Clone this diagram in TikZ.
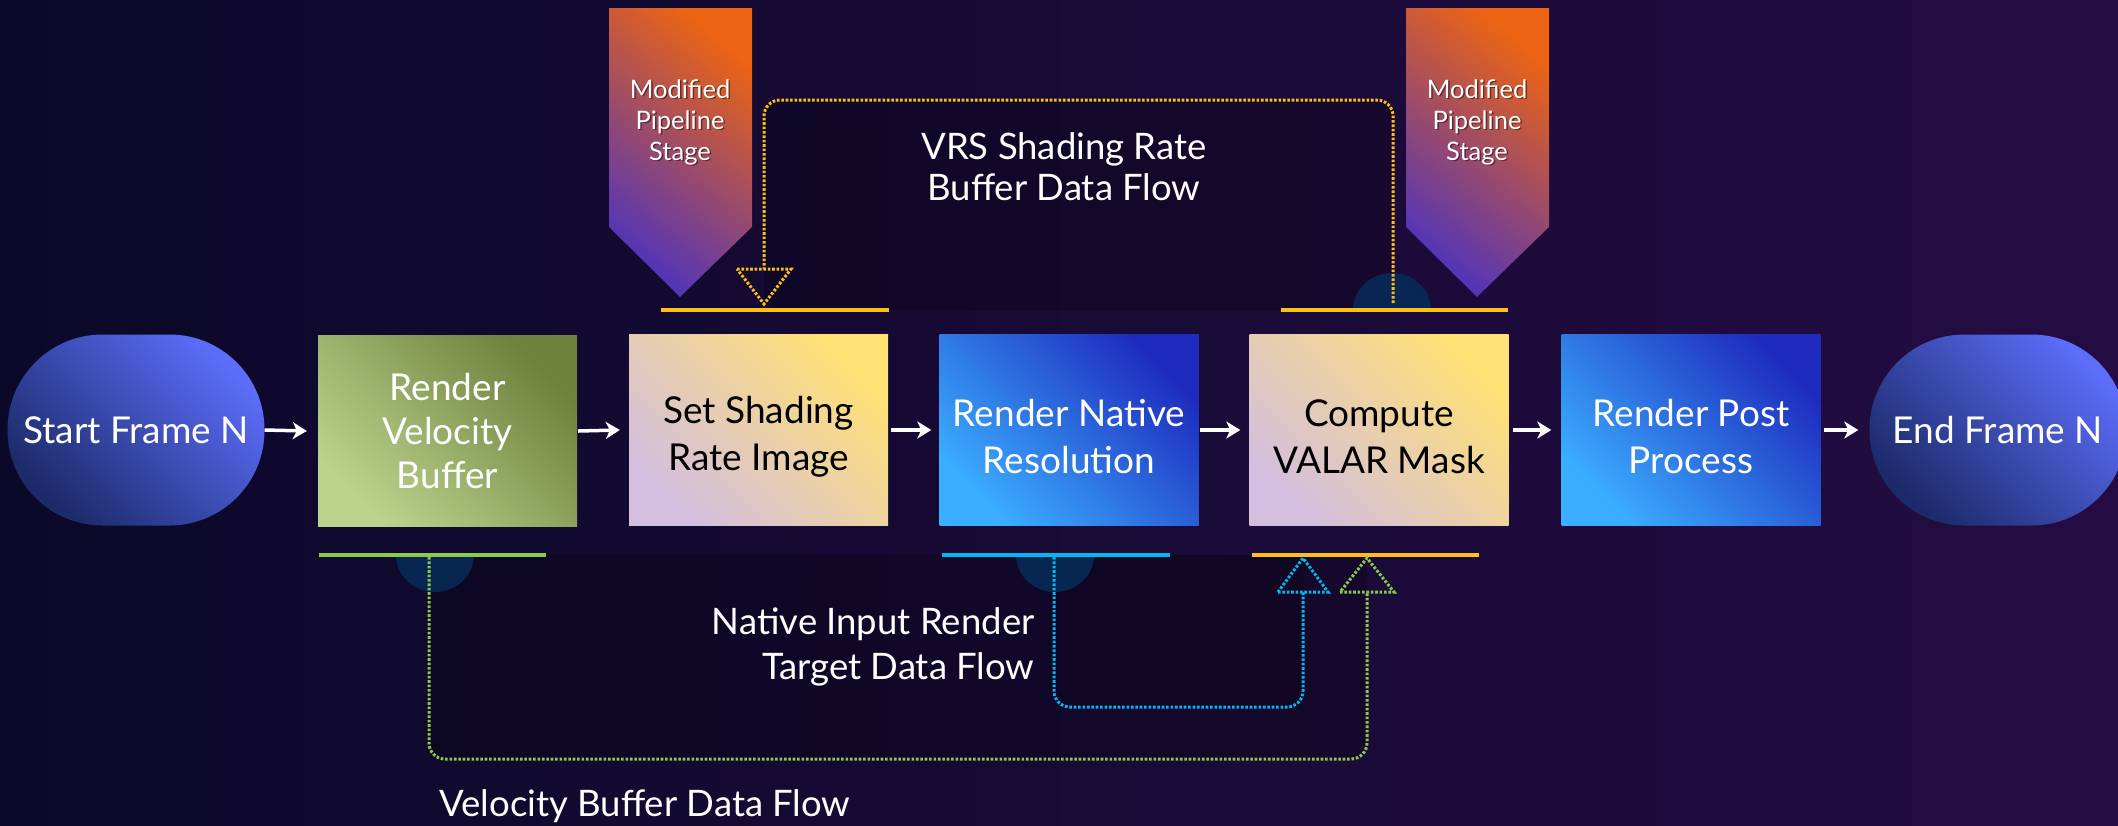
\documentclass[tikz,border=0pt]{standalone}
\usepackage{fontspec}
\setmainfont{Lato}
\usetikzlibrary{arrows.meta}

\definecolor{bgLeft}{HTML}{0B0929}
\definecolor{bgRight}{HTML}{240C42}
\definecolor{ovalHi}{HTML}{5C6DFA}
\definecolor{ovalLo}{HTML}{1B2A68}
\definecolor{greenHi}{HTML}{BCD38E}
\definecolor{greenLo}{HTML}{6E813D}
\definecolor{peachLo}{HTML}{D3BEDF}
\definecolor{peachHi}{HTML}{FFE176}
\definecolor{blueLo}{HTML}{3BAEFF}
\definecolor{blueHi}{HTML}{1E2BBE}
\definecolor{bannerTop}{HTML}{EC6414}
\definecolor{bannerMid}{HTML}{C2587A}
\definecolor{bannerLow}{HTML}{5134BA}
\definecolor{barYellow}{HTML}{FCC016}
\definecolor{barGreen}{HTML}{8DC94C}
\definecolor{barCyan}{HTML}{02B8F2}
\definecolor{blobBlue}{HTML}{062C58}

\newcommand\stagefont{\fontsize{37}{44}\selectfont}
\newcommand\pairfont{\fontsize{37}{47}\selectfont}
\newcommand\bannerfont{\fontsize{25.5}{31}\selectfont}

\begin{document}
\begin{tikzpicture}[x=1pt,y=-1pt,
  stage/.style={rectangle, minimum width=259pt, minimum height=191pt,
    inner sep=0pt, align=center, font=\stagefont},
  greenstage/.style={stage, top color=greenLo, bottom color=greenHi,
    shading angle=-45, text=white},
  peachstage/.style={stage, top color=peachHi, bottom color=peachLo,
    shading angle=-45},
  bluestage/.style={stage, top color=blueHi, bottom color=blueLo,
    shading angle=-45},
  stagetext/.style={align=center, font=\pairfont, inner sep=0pt},
  terminal/.style={rectangle, rounded corners=95pt, minimum width=257pt,
    minimum height=191pt, inner sep=0pt, font=\stagefont, text=white,
    top color=ovalHi, bottom color=ovalLo, shading angle=-45},
  banner/.style={top color=bannerTop, middle color=bannerMid,
    bottom color=bannerLow, shading angle=-40},
  bannertext/.style={font=\bannerfont, text=white, align=center},
  flowarrow/.style={draw=white, line width=3.5pt,
    -{Stealth[length=14pt,width=17pt,inset=4pt]}},
  bar/.style={line width=4pt},
  dotline/.style={line width=3pt, dash pattern=on 2.6pt off 1.8pt},
  ydot/.style={dotline, draw=barYellow},
  gdot/.style={dotline, draw=barGreen},
  cdot/.style={dotline, draw=barCyan},
  label/.style={font=\fontsize{36.5}{43}\selectfont, text=white},
  blob/.style={fill=blobBlue, opacity=0.85}
]
\useasboundingbox (0,0) rectangle (2118,825);

% background
\fill[left color=bgLeft, right color=bgRight] (0,0) rectangle (2118,825);

% darker areas enclosed by the data-flow loops
\fill[black, opacity=0.22, rounded corners=16pt] (764,100) rectangle (1393,310);
\fill[black, opacity=0.22, rounded corners=16pt] (429,555) rectangle (1367,759);
\fill[black, opacity=0.12, rounded corners=16pt] (1054,555) rectangle (1303,707);

% glow blobs where the flows leave their bars
\begin{scope}
  \clip (380,555) rectangle (490,600);
  \fill[blob] (435,555) ellipse [x radius=39pt, y radius=37pt];
\end{scope}
\begin{scope}
  \clip (1000,555) rectangle (1110,600);
  \fill[blob] (1055,555) ellipse [x radius=39pt, y radius=37pt];
\end{scope}
\begin{scope}
  \clip (1340,260) rectangle (1445,310);
  \fill[blob] (1392,310) ellipse [x radius=39pt, y radius=37pt];
\end{scope}

% modified pipeline stage banners
\fill[banner] (609,8) -- (752,8) -- (752,227) -- (680,297) -- (609,227) -- cycle;
\fill[banner] (1406,8) -- (1549,8) -- (1549,227) -- (1477,297) -- (1406,227) -- cycle;
\node[bannertext, text=black, opacity=0.45] at (681.5,123.5) {Modified\\Pipeline\\Stage};
\node[bannertext] (mps1) at (680,122) {Modified\\Pipeline\\Stage};
\node[bannertext, text=black, opacity=0.45] at (1478.5,123.5) {Modified\\Pipeline\\Stage};
\node[bannertext] (mps2) at (1477,122) {Modified\\Pipeline\\Stage};

% pipeline stages
\node[terminal] (start) at (136,430) {Start Frame N};
\node[greenstage] (rvb) at (447.5,431) {Render\\Velocity\\Buffer};
\node[peachstage] (ssr) at (758.5,430) {};
\node[bluestage] (rnr) at (1069,430) {};
\node[peachstage] (cvm) at (1379,430) {};
\node[bluestage] (rpp) at (1691,430) {};
\node[terminal] (stop) at (1998,430) {End Frame N};

\node[stagetext, text=black] (ssrText) at ([yshift=-7pt]ssr.center) {Set Shading\\Rate Image};
\node[stagetext, text=white] (rnrText) at ([yshift=-7pt]rnr.center) {Render Native\\Resolution};
\node[stagetext, text=black] (cvmText) at ([yshift=-7pt]cvm.center) {Compute\\VALAR Mask};
\node[stagetext, text=white] (rppText) at ([yshift=-7pt]rpp.center) {Render Post\\Process};

\draw[flowarrow] ([xshift=0pt]start.east) -- ([xshift=-11pt]rvb.west);
\draw[flowarrow] ([xshift=1pt]rvb.east) -- ([xshift=-9pt]ssr.west);
\draw[flowarrow] ([xshift=3pt]ssr.east) -- ([xshift=-8pt]rnr.west);
\draw[flowarrow] ([xshift=1pt]rnr.east) -- ([xshift=-9pt]cvm.west);
\draw[flowarrow] ([xshift=4pt]cvm.east) -- ([xshift=-10pt]rpp.west);
\draw[flowarrow] ([xshift=3pt]rpp.east) -- ([xshift=-11pt]stop.west);

% resource bars
\coordinate (ssrTopL) at (661,310);  \coordinate (ssrTopR) at (889,310);
\coordinate (cvmTopL) at (1281,310); \coordinate (cvmTopR) at (1508,310);
\coordinate (rvbBotL) at (319,555);  \coordinate (rvbBotR) at (546,555);
\coordinate (rnrBotL) at (942,555);  \coordinate (rnrBotR) at (1170,555);
\coordinate (cvmBotL) at (1252,555); \coordinate (cvmBotR) at (1479,555);
\draw[bar, barYellow] (ssrTopL) -- (ssrTopR);
\draw[bar, barYellow] (cvmTopL) -- (cvmTopR);
\draw[bar, barGreen] (rvbBotL) -- (rvbBotR);
\draw[bar, barCyan] (rnrBotL) -- (rnrBotR);
\draw[bar, barYellow] (cvmBotL) -- (cvmBotR);

% VRS shading rate buffer flow
\coordinate (vrsFrom) at (1393,303);
\coordinate (vrsTurn) at (764,100);
\coordinate (vrsTo) at (764,269);
\coordinate (vrsTip) at (764,304);
\draw[ydot, rounded corners=16pt] (vrsFrom) |- (vrsTurn) -- (vrsTo);
\draw[ydot] (vrsTo) ++(-27,0) -- ++(54,0) -- (vrsTip) -- cycle;

% native input render target flow
\coordinate (nirFrom) at (1054,557);
\coordinate (nirTurn) at (1303,707);
\coordinate (nirTo) at (1303,592);
\coordinate (nirTip) at (1303,558);
\draw[cdot, rounded corners=16pt] (nirFrom) |- (nirTurn) -- (nirTo);
\draw[cdot] (nirTo) ++(-25,0) -- ++(50,0) -- (nirTip) -- cycle;

% velocity buffer flow
\coordinate (velFrom) at (429,557);
\coordinate (velTurn) at (1367,759);
\coordinate (velTo) at (1367,592);
\coordinate (velTip) at (1367,558);
\draw[gdot, rounded corners=16pt] (velFrom) |- (velTurn) -- (velTo);
\draw[gdot] (velTo) ++(-27,0) -- ++(54,0) -- (velTip) -- cycle;

% flow labels
\node[label, align=center, font=\fontsize{36.5}{41}\selectfont] (vrsLabel) at (1064,167) {VRS Shading Rate\\Buffer Data Flow};
\node[label, align=right, anchor=east, font=\fontsize{36.5}{45}\selectfont] (nirLabel) at (1038,647) {Native Input Render\\Target Data Flow};
\node[label] (velLabel) at (645,806) {Velocity Buffer Data Flow};
\end{tikzpicture}
\end{document}
